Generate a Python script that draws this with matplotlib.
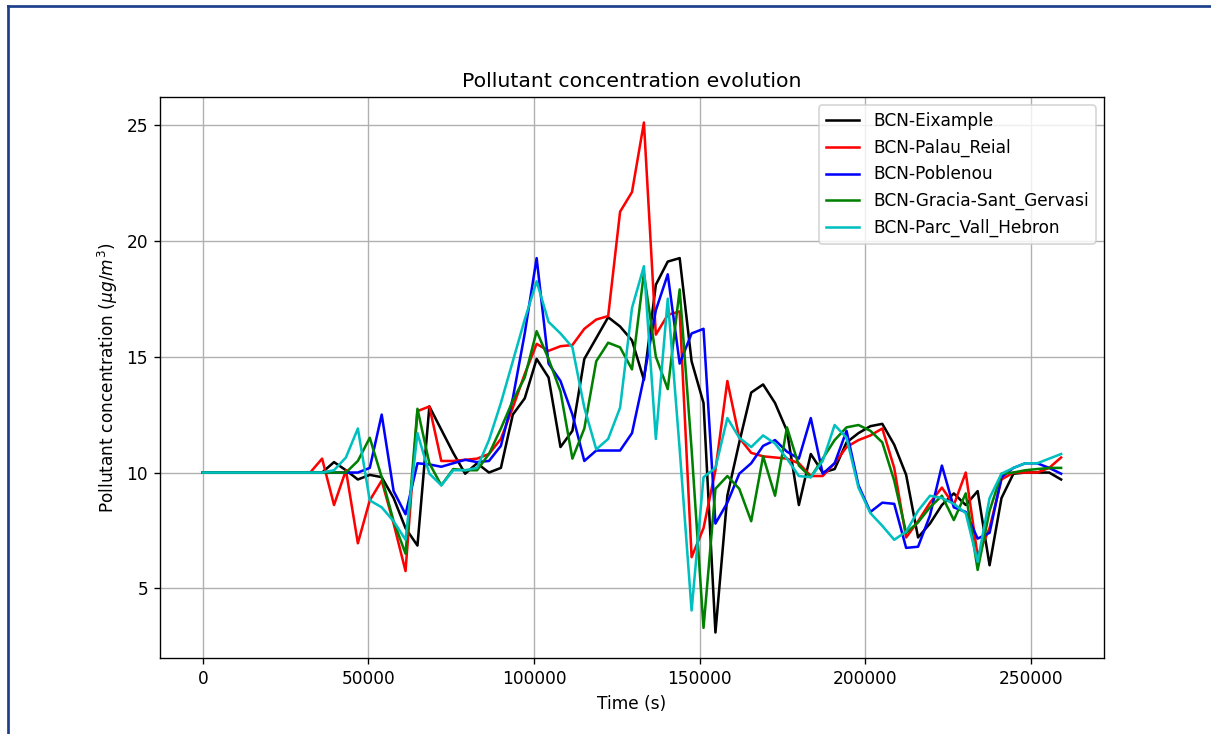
import numpy as np
import matplotlib
matplotlib.use('Agg')
import matplotlib.pyplot as plt
from matplotlib.lines import Line2D

# hourly samples over 3 days
time_s = np.arange(73) * 3600

stations = ['BCN-Eixample', 'BCN-Palau_Reial', 'BCN-Poblenou',
            'BCN-Gracia-Sant_Gervasi', 'BCN-Parc_Vall_Hebron']
colors = ['k', 'r', 'b', 'g', 'c']

eixample = [10.0, 10.0, 10.0, 10.0, 10.0, 10.0, 10.0, 10.0, 10.0, 10.0, 10.0,
            10.45, 10.1, 9.7, 9.9, 9.8, 8.9, 7.6, 6.85, 12.85, 11.85, 10.85,
            9.95, 10.4, 10.0, 10.2, 12.5, 13.2, 14.9, 14.1, 11.1, 11.8, 14.9,
            15.8, 16.7, 16.3, 15.7, 14.0, 18.1, 19.1, 19.25, 14.8, 13.0, 3.1,
            9.0, 11.3, 13.45, 13.8, 13.0, 11.8, 8.6, 10.8, 10.0, 10.15, 11.3,
            11.7, 12.0, 12.1, 11.2, 9.9, 7.2, 7.8, 8.6, 9.1, 8.6, 9.2, 6.0,
            8.9, 9.95, 10.0, 10.0, 10.0, 9.7]

palau_reial = [10.0, 10.0, 10.0, 10.0, 10.0, 10.0, 10.0, 10.0, 10.0, 10.0, 10.6,
               8.6, 10.1, 6.95, 8.8, 9.65, 7.8, 5.75, 12.65, 12.85, 10.5, 10.5,
               10.55, 10.6, 10.8, 11.45, 12.8, 14.25, 15.55, 15.25, 15.45, 15.5,
               16.2, 16.6, 16.75, 21.25, 22.1, 25.1, 15.95, 16.8, 16.95, 6.35,
               7.6, 10.1, 13.95, 11.5, 10.85, 10.7, 10.65, 10.6, 10.4, 9.85,
               9.85, 10.4, 11.1, 11.4, 11.6, 11.9, 10.2, 7.2, 7.9, 8.7, 9.35,
               8.6, 10.0, 6.4, 7.6, 9.7, 10.0, 10.0, 10.0, 10.2, 10.65]

poblenou = [10.0, 10.0, 10.0, 10.0, 10.0, 10.0, 10.0, 10.0, 10.0, 10.0, 10.0,
            10.0, 10.0, 10.0, 10.2, 12.5, 9.2, 8.2, 10.4, 10.35, 10.25, 10.4,
            10.55, 10.45, 10.5, 11.15, 13.2, 16.0, 19.25, 14.7, 13.95, 12.5,
            10.5, 10.95, 10.95, 10.95, 11.7, 14.1, 17.0, 18.55, 14.7, 16.0,
            16.2, 7.8, 8.7, 9.95, 10.4, 11.15, 11.4, 10.9, 10.6, 12.35, 9.95,
            10.4, 11.8, 9.45, 8.3, 8.7, 8.65, 6.75, 6.8, 8.15, 10.3, 8.5, 8.3,
            7.15, 7.4, 9.8, 10.2, 10.4, 10.4, 10.2, 9.95]

gracia = [10.0, 10.0, 10.0, 10.0, 10.0, 10.0, 10.0, 10.0, 10.0, 10.0, 10.0,
          10.0, 10.0, 10.5, 11.5, 9.8, 7.9, 6.5, 12.75, 10.4, 9.45, 10.15,
          10.1, 10.1, 10.8, 11.9, 13.1, 14.1, 16.1, 14.9, 13.5, 10.6, 11.9,
          14.8, 15.6, 15.4, 14.45, 18.6, 15.0, 13.6, 17.9, 11.0, 3.3, 9.3,
          9.85, 9.3, 7.9, 10.7, 9.0, 11.95, 10.3, 9.8, 10.6, 11.4, 11.95,
          12.05, 11.8, 11.3, 9.65, 7.4, 7.85, 8.5, 9.0, 7.95, 9.1, 5.8, 8.35,
          9.95, 10.0, 10.1, 10.15, 10.2, 10.2]

vall_hebron = [10.0, 10.0, 10.0, 10.0, 10.0, 10.0, 10.0, 10.0, 10.0, 10.0, 10.0,
               10.1, 10.65, 11.9, 8.8, 8.5, 7.9, 7.1, 11.7, 9.95, 9.45, 10.1,
               10.1, 10.2, 11.4, 13.0, 14.8, 16.6, 18.25, 16.5, 16.0, 15.4,
               12.8, 11.0, 11.45, 12.8, 17.1, 18.9, 11.45, 17.5, 11.0, 4.05,
               9.8, 10.2, 12.35, 11.5, 11.1, 11.6, 11.25, 10.6, 9.85, 9.8, 10.5,
               12.05, 11.5, 9.35, 8.25, 7.7, 7.1, 7.45, 8.35, 9.0, 8.9, 8.65,
               8.25, 6.15, 8.9, 9.95, 10.2, 10.4, 10.4, 10.6, 10.8]

series = [eixample, palau_reial, poblenou, gracia, vall_hebron]

#%% figure
W, H, DPI = 1211, 734, 122
fig = plt.figure(figsize=(W / DPI, H / DPI), dpi=DPI)
fig.subplots_adjust(left=160 / W, right=1104 / W, bottom=1 - 658 / H, top=1 - 97 / H)
ax = fig.add_subplot(111)

for name, vals, col in zip(stations, series, colors):
    ax.plot(time_s, vals, color=col, label=name)

ax.set(xlabel='Time (s)', ylabel=r'Pollutant concentration ($\mu g/m^3$)',
       title='Pollutant concentration evolution')
ax.grid()
ax.legend(loc='upper right')

# frame around the picture (only top and left are visible)
frame_col = '#1c3f8c'
fig.add_artist(Line2D([8 / W, 8 / W], [0, 1 - 6 / H], transform=fig.transFigure,
                      color=frame_col, lw=1.6))
fig.add_artist(Line2D([8 / W, 1], [1 - 6 / H, 1 - 6 / H], transform=fig.transFigure,
                      color=frame_col, lw=1.6))

fig.savefig('out.png', dpi=DPI)
